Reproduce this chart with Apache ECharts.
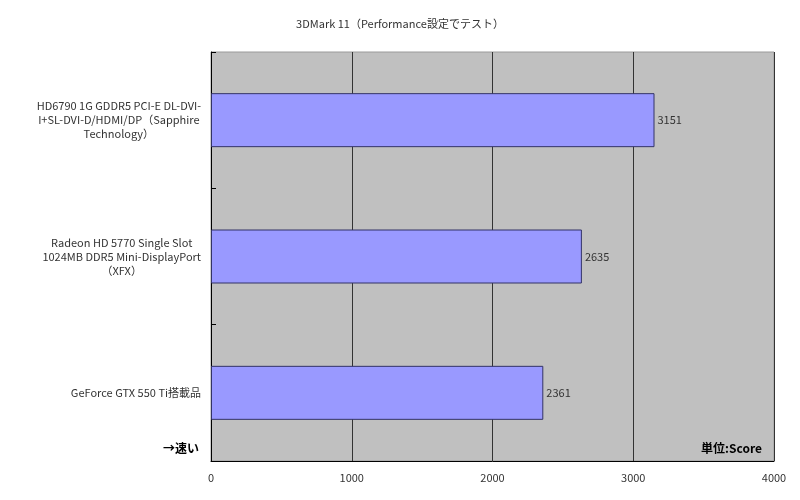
<!DOCTYPE html>
<html>
<head>
<meta charset="utf-8">
<script src="https://cdn.jsdelivr.net/npm/echarts@6/dist/echarts.min.js"></script>
<style>html,body{margin:0;padding:0;background:#fff;}#main{width:800px;height:500px;}</style>
</head>
<body>
<div id="main"></div>
<script>
var titleText = '3DMark 11（Performance設定でテスト）';
var categories = [
  'HD6790 1G GDDR5 PCI-E DL-DVI-\nI+SL-DVI-D/HDMI/DP（Sapphire\nTechnology）',
  'Radeon HD 5770 Single Slot\n1024MB DDR5 Mini-DisplayPort\n（XFX）',
  'GeForce GTX 550 Ti搭載品'
];
var scores = [3151, 2635, 2361];
var xTicks = [0, 1000, 2000, 3000, 4000];
var noteLeft = '→速い';
var noteRight = '単位:Score';

var FONT = '"Noto Sans CJK JP", "Noto Sans", sans-serif';
var chart = echarts.init(document.getElementById('main'));
chart.setOption({
  animation: false,
  backgroundColor: '#ffffff',
  title: {
    text: titleText, left: 'center', top: 13,
    textStyle: { fontSize: 11, fontWeight: 'normal', color: '#333', fontFamily: FONT }
  },
  grid: { left: 211, right: 26, top: 52, bottom: 39, show: true, backgroundColor: '#c0c0c0', borderColor: '#9a9a9a', borderWidth: 1 },
  xAxis: {
    type: 'value', min: xTicks[0], max: xTicks[xTicks.length - 1], interval: 1000,
    axisLine: { show: true, lineStyle: { color: '#000', width: 1 } },
    axisTick: { show: false },
    axisLabel: { margin: 11, fontSize: 11, color: '#333', fontFamily: FONT, formatter: function (v) { return String(v); } },
    splitLine: { show: true, lineStyle: { color: '#333', width: 1 } }
  },
  yAxis: {
    type: 'category', data: categories, inverse: true,
    axisLine: { show: true, lineStyle: { color: '#000', width: 1 } },
    axisTick: { show: true, inside: true, length: 5, lineStyle: { color: '#000' } },
    axisLabel: {
      margin: 10, fontSize: 11, color: '#333', fontFamily: FONT, lineHeight: 14,
      formatter: function (v) {
        return v.split('\n').map(function (l) { return '{c|' + l + '}'; }).join('\n');
      },
      rich: { c: { align: 'center', fontSize: 11, lineHeight: 14, color: '#333', fontFamily: FONT } }
    },
    splitLine: { show: false }
  },
  series: [{
    type: 'bar', data: scores, barWidth: 54,
    itemStyle: { color: '#9999ff', borderColor: '#333366', borderWidth: 1 },
    label: { show: true, position: 'right', distance: 3, fontSize: 11, color: '#333', fontFamily: FONT }
  }],
  graphic: [
    { type: 'text', left: 163, top: 442, style: { text: noteLeft, fill: '#000', font: 'bold 12px ' + FONT } },
    { type: 'text', right: 38, top: 442, style: { text: noteRight, fill: '#000', font: 'bold 12px ' + FONT } }
  ]
});
</script>
</body>
</html>
